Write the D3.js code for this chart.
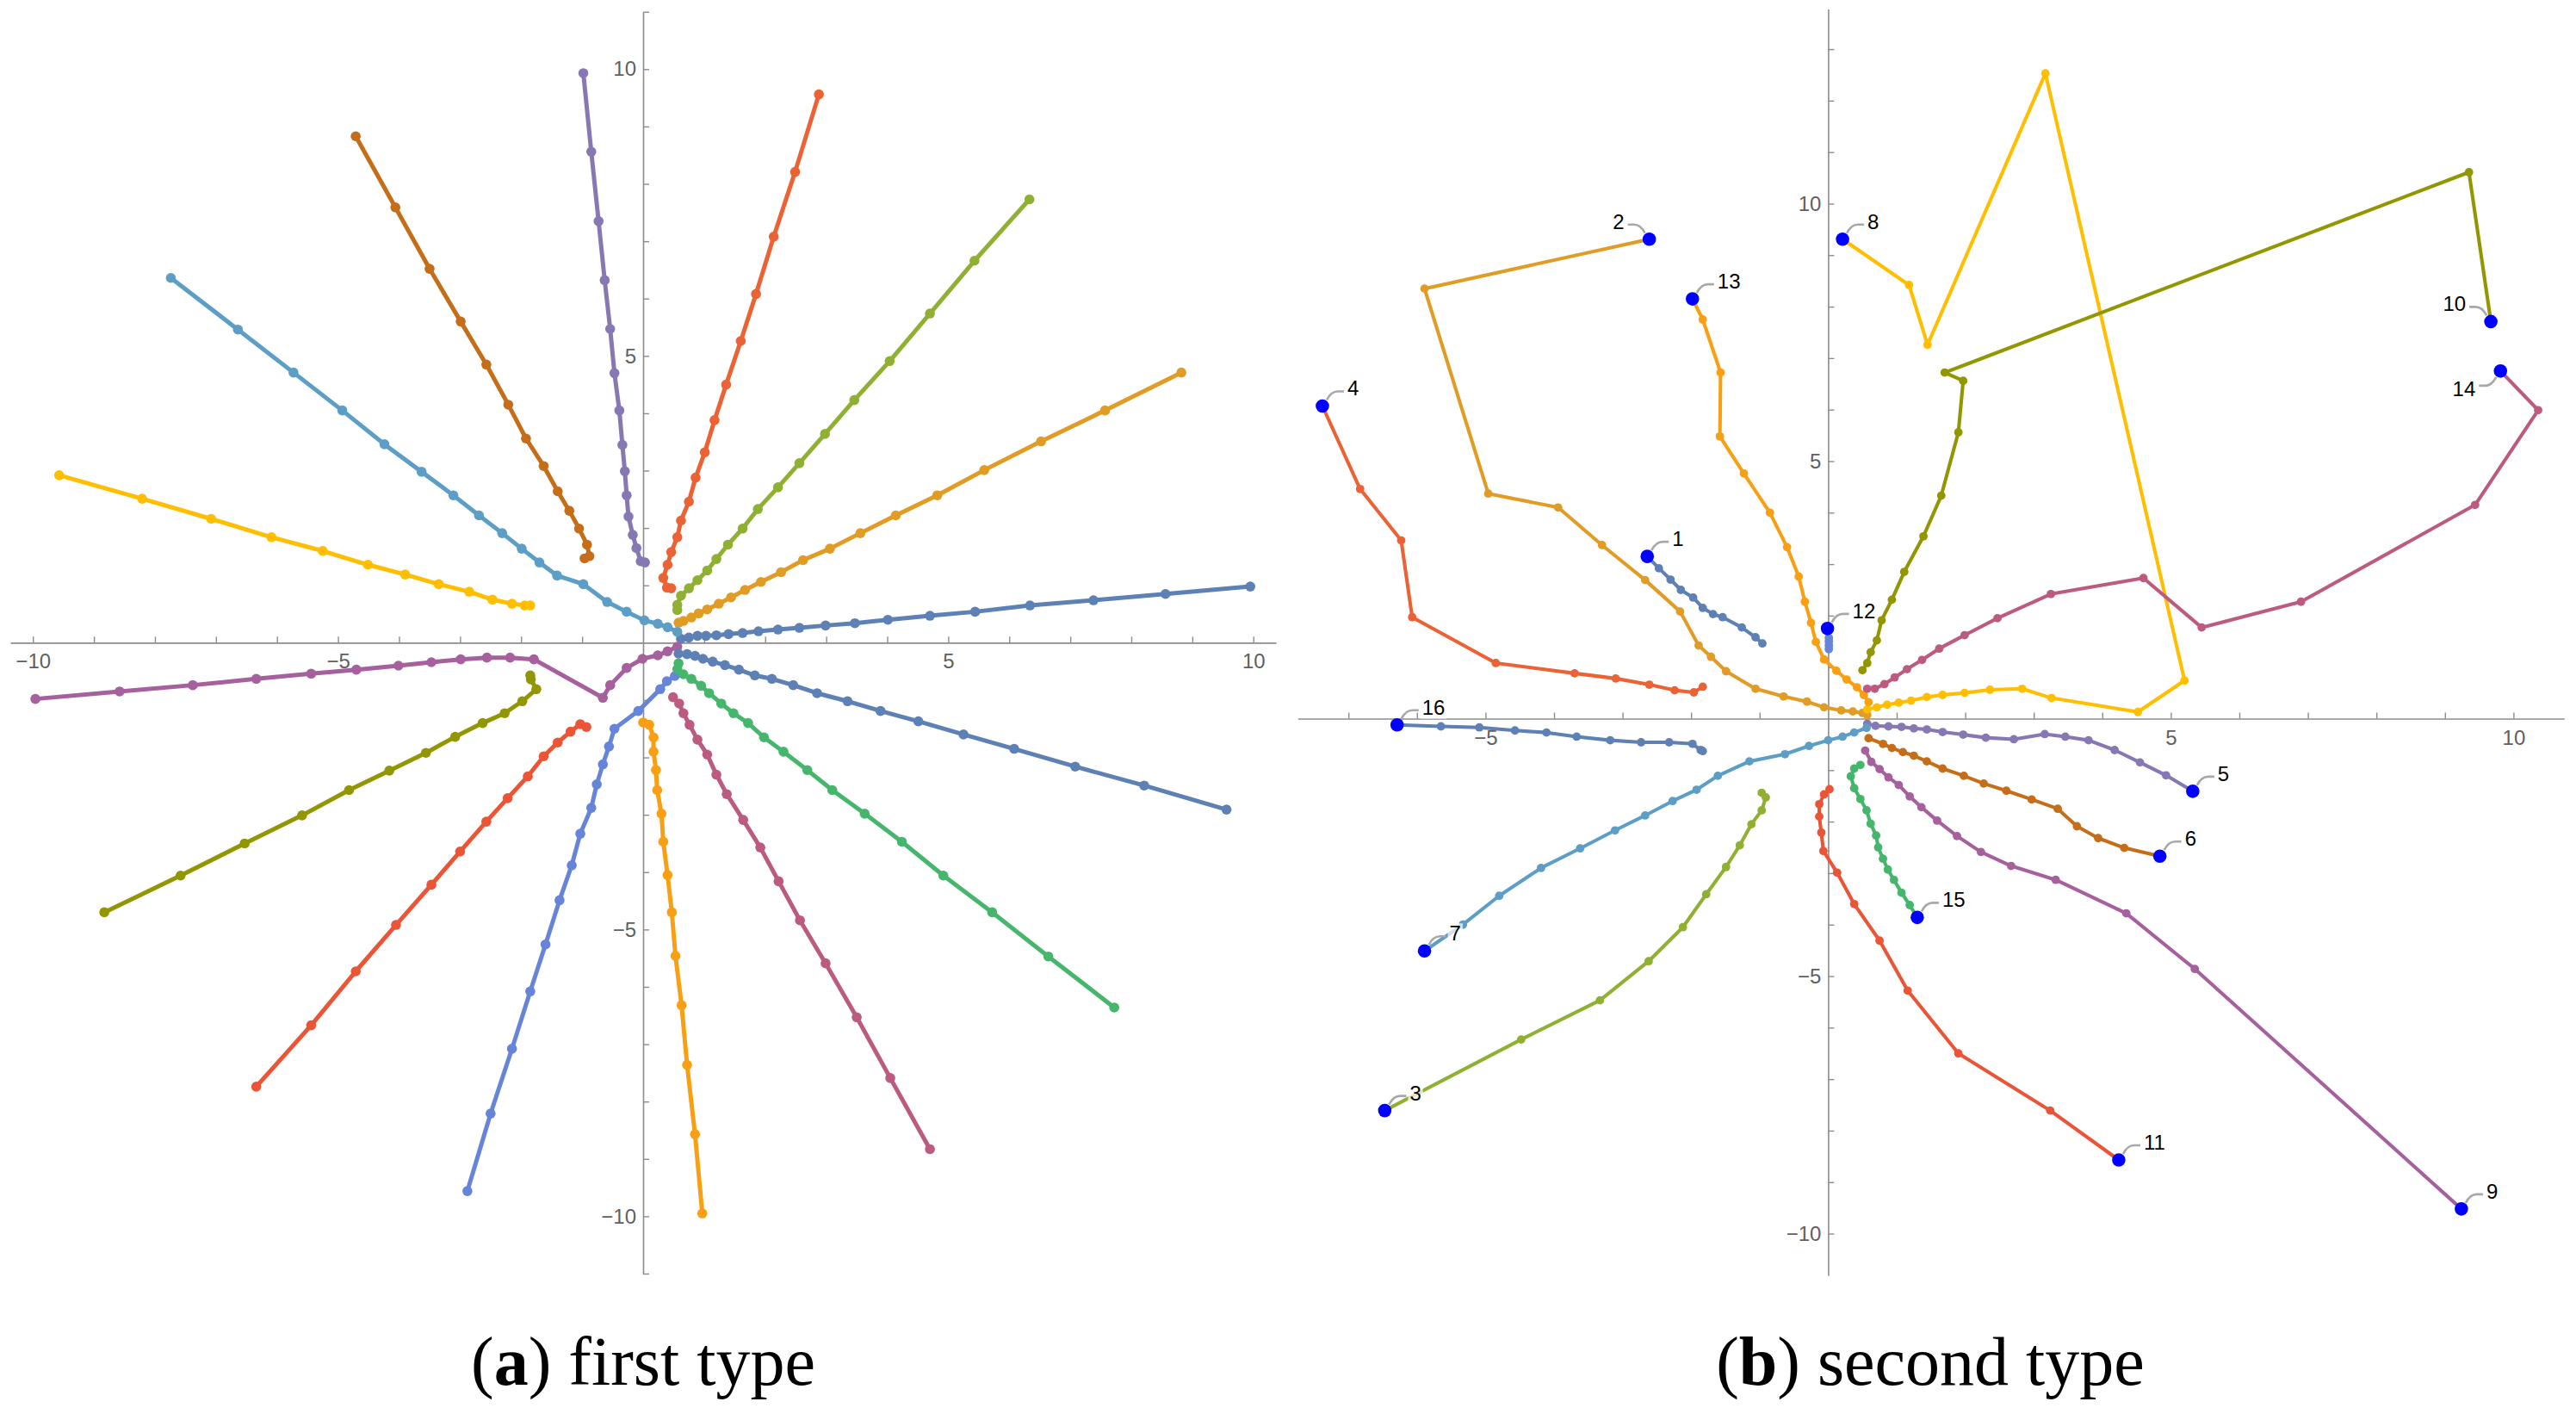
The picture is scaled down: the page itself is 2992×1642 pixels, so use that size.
<!DOCTYPE html>
<html>
<head>
<meta charset="utf-8">
<script src="https://cdn.jsdelivr.net/npm/d3@7"></script>
<style>
  html, body { margin: 0; padding: 0; background: #fff; }
  svg { display: block; }
</style>
</head>
<body>
<svg id="chart" width="2992" height="1642"></svg>
<script>
// ---------- Panel (a): first type ----------
const a1 = [[0.62,0.07],[0.75,0.09],[0.89,0.12],[1.03,0.12],[1.20,0.13],[1.40,0.15],[1.63,0.17],[1.89,0.20],[2.21,0.23],[2.56,0.26],[2.99,0.30],[3.47,0.34],[4.01,0.40],[4.70,0.47],[5.44,0.54],[6.34,0.65],[7.38,0.74],[8.56,0.85],[9.95,0.98]];
const a2 = [[0.58,0.35],[0.66,0.38],[0.79,0.44],[0.91,0.51],[1.05,0.58],[1.24,0.68],[1.44,0.79],[1.67,0.92],[1.93,1.06],[2.26,1.23],[2.62,1.44],[3.06,1.64],[3.56,1.91],[4.14,2.22],[4.82,2.57],[5.59,3.01],[6.52,3.51],[7.57,4.05],[8.82,4.71]];
const a3 = [[0.56,0.57],[0.56,0.66],[0.62,0.82],[0.75,0.95],[0.89,1.09],[1.05,1.26],[1.20,1.46],[1.39,1.71],[1.63,1.99],[1.88,2.33],[2.21,2.71],[2.56,3.13],[2.98,3.64],[3.46,4.23],[4.04,4.91],[4.70,5.74],[5.43,6.66],[6.33,7.73]];
const a4 = [[0.46,0.95],[0.39,0.96],[0.33,1.13],[0.40,1.36],[0.46,1.58],[0.56,1.84],[0.62,2.13],[0.75,2.46],[0.86,2.88],[1.01,3.32],[1.17,3.88],[1.36,4.50],[1.60,5.26],[1.85,6.08],[2.14,7.08],[2.49,8.21],[2.88,9.56]];
const a5 = [[0.03,1.40],[-0.04,1.42],[-0.11,1.65],[-0.17,1.88],[-0.24,2.20],[-0.27,2.57],[-0.30,2.99],[-0.34,3.45],[-0.39,4.05],[-0.47,4.70],[-0.54,5.47],[-0.63,6.32],[-0.73,7.35],[-0.85,8.56],[-0.98,9.93]];
const a6 = [[-0.96,1.47],[-0.88,1.51],[-0.92,1.71],[-1.05,1.99],[-1.21,2.30],[-1.40,2.64],[-1.63,3.08],[-1.92,3.56],[-2.21,4.15],[-2.57,4.85],[-2.99,5.60],[-3.50,6.52],[-4.06,7.59],[-4.71,8.83]];
const a7 = [[0.56,0.19],[0.40,0.27],[0.24,0.33],[0.02,0.39],[-0.27,0.54],[-0.59,0.71],[-0.98,1.02],[-1.41,1.17],[-1.70,1.40],[-1.99,1.64],[-2.31,1.91],[-2.69,2.22],[-3.11,2.57],[-3.63,2.98],[-4.24,3.46],[-4.93,4.05],[-5.73,4.71],[-6.64,5.46],[-7.74,6.36]];
const a8 = [[-1.85,0.65],[-1.94,0.65],[-2.15,0.68],[-2.47,0.75],[-2.85,0.89],[-3.35,1.02],[-3.90,1.19],[-4.51,1.36],[-5.25,1.60],[-6.09,1.84],[-7.08,2.16],[-8.21,2.51],[-9.57,2.92]];
const a9 = [[0.56,-0.07],[0.40,-0.15],[0.24,-0.22],[-0.01,-0.28],[-0.27,-0.44],[-0.54,-0.74],[-0.66,-0.96],[-1.79,-0.29],[-2.18,-0.26],[-2.56,-0.26],[-2.99,-0.29],[-3.47,-0.34],[-4.01,-0.40],[-4.70,-0.47],[-5.44,-0.54],[-6.34,-0.63],[-7.38,-0.74],[-8.58,-0.85],[-9.96,-0.98]];
const a10 = [[-1.85,-0.57],[-1.84,-0.64],[-1.75,-0.81],[-1.98,-1.02],[-2.27,-1.23],[-2.63,-1.40],[-3.08,-1.64],[-3.56,-1.92],[-4.16,-2.23],[-4.82,-2.57],[-5.59,-3.01],[-6.53,-3.50],[-7.58,-4.06],[-8.83,-4.70]];
const a11 = [[-0.93,-1.47],[-1.03,-1.42],[-1.19,-1.55],[-1.40,-1.74],[-1.63,-1.98],[-1.89,-2.33],[-2.22,-2.71],[-2.57,-3.12],[-3.00,-3.64],[-3.47,-4.22],[-4.05,-4.92],[-4.71,-5.73],[-5.44,-6.67],[-6.34,-7.74]];
const a12 = [[0.52,-0.58],[0.39,-0.67],[0.28,-0.81],[-0.08,-1.19],[-0.47,-1.50],[-0.56,-1.81],[-0.66,-2.12],[-0.76,-2.47],[-0.85,-2.88],[-1.03,-3.33],[-1.17,-3.88],[-1.37,-4.49],[-1.60,-5.26],[-1.85,-6.08],[-2.15,-7.08],[-2.50,-8.21],[-2.88,-9.56]];
const a13 = [[0.00,-1.39],[0.10,-1.43],[0.17,-1.65],[0.17,-1.90],[0.21,-2.22],[0.23,-2.57],[0.30,-2.98],[0.33,-3.47],[0.40,-4.05],[0.47,-4.70],[0.53,-5.46],[0.63,-6.32],[0.72,-7.36],[0.85,-8.57],[0.97,-9.95]];
const a14 = [[0.49,-0.95],[0.59,-1.06],[0.66,-1.23],[0.76,-1.43],[0.89,-1.69],[1.05,-1.95],[1.20,-2.30],[1.37,-2.64],[1.64,-3.09],[1.92,-3.57],[2.22,-4.16],[2.57,-4.84],[2.99,-5.59],[3.50,-6.53],[4.05,-7.59],[4.70,-8.83]];
const a15 = [[0.58,-0.36],[0.56,-0.46],[0.66,-0.55],[0.79,-0.63],[0.95,-0.75],[1.08,-0.88],[1.28,-1.06],[1.48,-1.23],[1.72,-1.40],[1.98,-1.65],[2.30,-1.90],[2.69,-2.22],[3.10,-2.57],[3.63,-2.98],[4.24,-3.47],[4.92,-4.06],[5.72,-4.70],[6.64,-5.47],[7.72,-6.36]];
const a16 = [[0.58,-0.19],[0.72,-0.20],[0.85,-0.23],[0.98,-0.28],[1.14,-0.33],[1.34,-0.39],[1.57,-0.47],[1.83,-0.57],[2.11,-0.63],[2.46,-0.74],[2.85,-0.88],[3.35,-1.02],[3.89,-1.19],[4.51,-1.37],[5.25,-1.60],[6.08,-1.85],[7.08,-2.16],[8.21,-2.49],[9.56,-2.91]];

// ---------- Panel (b): second type (last point = labelled end) ----------
const b1 = [[-0.96,1.46],[-1.06,1.58],[-1.26,1.77],[-1.54,1.97],[-1.68,2.03],[-1.83,2.15],[-1.97,2.35],[-2.15,2.50],[-2.30,2.70],[-2.47,2.92],[-2.64,3.15]];
const b2 = [[0.57,0.07],[0.50,0.11],[0.36,0.14],[0.19,0.16],[-0.06,0.22],[-0.31,0.33],[-0.65,0.43],[-1.06,0.58],[-1.49,0.92],[-1.71,1.20],[-1.89,1.42],[-2.16,2.08],[-2.67,2.69],[-3.30,3.37],[-3.94,4.10],[-4.96,4.37],[-5.89,8.35],[-2.61,9.31]];
const b3 = [[-0.97,-1.44],[-0.91,-1.53],[-0.97,-1.78],[-1.12,-2.05],[-1.29,-2.46],[-1.49,-2.88],[-1.78,-3.41],[-2.12,-4.05],[-2.62,-4.71],[-3.33,-5.47],[-4.48,-6.23],[-6.47,-7.61]];
const b4 = [[-1.83,0.62],[-1.96,0.51],[-2.24,0.55],[-2.61,0.66],[-3.10,0.78],[-3.70,0.88],[-4.85,1.08],[-6.07,1.97],[-6.23,3.46],[-6.83,4.46],[-7.38,6.07]];
const b5 = [[0.57,-0.10],[0.69,-0.14],[0.88,-0.15],[1.07,-0.16],[1.25,-0.19],[1.44,-0.21],[1.67,-0.26],[1.97,-0.31],[2.30,-0.37],[2.71,-0.40],[3.16,-0.30],[3.46,-0.35],[3.80,-0.42],[4.18,-0.61],[4.55,-0.85],[4.93,-1.10],[5.32,-1.41]];
const b6 = [[0.59,-0.38],[0.80,-0.49],[0.93,-0.57],[1.09,-0.65],[1.25,-0.72],[1.44,-0.83],[1.67,-0.97],[1.98,-1.11],[2.27,-1.26],[2.60,-1.40],[2.97,-1.57],[3.35,-1.75],[3.63,-2.09],[3.94,-2.32],[4.32,-2.51],[4.84,-2.67]];
const b7 = [[0.56,-0.18],[0.38,-0.27],[0.21,-0.35],[0.00,-0.42],[-0.28,-0.53],[-0.63,-0.69],[-1.15,-0.83],[-1.61,-1.11],[-1.92,-1.38],[-2.27,-1.60],[-2.67,-1.88],[-3.11,-2.17],[-3.62,-2.52],[-4.19,-2.90],[-4.80,-3.44],[-5.33,-4.00],[-5.89,-4.51]];
const b8 = [[0.57,0.18],[0.71,0.22],[0.86,0.27],[1.03,0.31],[1.21,0.35],[1.44,0.42],[1.67,0.46],[1.99,0.50],[2.36,0.56],[2.83,0.58],[3.26,0.40],[4.52,0.13],[5.20,0.74],[3.17,12.53],[1.45,7.26],[1.18,8.42],[0.21,9.31]];
const b9 = [[0.54,-0.62],[0.63,-0.84],[0.75,-0.98],[0.88,-1.14],[1.03,-1.29],[1.19,-1.51],[1.36,-1.72],[1.59,-1.98],[1.88,-2.28],[2.23,-2.59],[2.67,-2.86],[3.32,-3.13],[4.35,-3.78],[5.35,-4.86],[9.24,-9.52]];
const b10 = [[0.50,0.94],[0.57,1.08],[0.62,1.29],[0.71,1.52],[0.78,1.91],[0.93,2.31],[1.11,2.85],[1.39,3.54],[1.65,4.33],[1.90,5.56],[1.97,6.56],[1.70,6.72],[9.35,10.61],[9.67,7.71]];
const b11 = [[0.02,-1.37],[-0.06,-1.47],[-0.13,-1.66],[-0.13,-1.90],[-0.10,-2.21],[-0.07,-2.57],[0.13,-2.99],[0.38,-3.60],[0.75,-4.31],[1.16,-5.28],[1.90,-6.50],[3.24,-7.61],[4.24,-8.57]];
const b12 = [[0.01,1.35],[0.01,1.42],[0.01,1.50],[0.01,1.57],[-0.01,1.75]];
const b13 = [[0.59,0.32],[0.52,0.46],[0.42,0.61],[0.27,0.76],[0.12,0.93],[-0.06,1.15],[-0.18,1.49],[-0.25,1.86],[-0.34,2.27],[-0.43,2.76],[-0.60,3.33],[-0.85,4.00],[-1.23,4.76],[-1.58,5.48],[-1.57,6.72],[-1.83,7.75],[-1.98,8.15]];
const b14 = [[0.57,0.58],[0.68,0.58],[0.82,0.67],[0.97,0.80],[1.15,0.96],[1.37,1.14],[1.62,1.36],[1.99,1.62],[2.47,1.95],[3.25,2.42],[4.60,2.73],[5.45,1.77],[6.90,2.27],[9.44,4.15],[10.36,5.99],[9.81,6.75]];
const b15 = [[0.47,-0.90],[0.38,-0.97],[0.33,-1.12],[0.38,-1.35],[0.47,-1.56],[0.56,-1.78],[0.62,-2.04],[0.70,-2.27],[0.73,-2.50],[0.80,-2.72],[0.87,-2.93],[0.96,-3.13],[1.07,-3.38],[1.19,-3.62],[1.30,-3.86]];
const b16 = [[-1.83,-0.63],[-1.86,-0.61],[-1.98,-0.49],[-2.32,-0.46],[-2.73,-0.46],[-3.18,-0.42],[-3.67,-0.35],[-4.11,-0.27],[-4.57,-0.23],[-5.09,-0.17],[-5.65,-0.15],[-6.29,-0.12]];

const seriesA = [a1,a2,a3,a4,a5,a6,a7,a8,a9,a10,a11,a12,a13,a14,a15,a16];
const seriesB = [b1,b2,b3,b4,b5,b6,b7,b8,b9,b10,b11,b12,b13,b14,b15,b16];
const labelsB = ["1","2","3","4","5","6","7","8","9","10","11","12","13","14","15","16"];
const labelSideB = ["ur","ul","ur","ur","ur","ur","ur","ur","ur","ul","ur","ur","ur","dl","ur","ur"];

const palette = ["#5E81B5","#E09C24","#8FB032","#EB6235","#8778B3","#C56E1A","#5D9EC7","#FFBF00",
                 "#A5609D","#929600","#E95536","#6685D9","#F89F13","#BC5B80","#47B66D","#5E81B5"];

const xTicksA = d3.range(-10, 11).filter(d => d !== 0);
const yTicksA = d3.range(-11, 12).filter(d => d !== 0);
const xTicksB = d3.range(-7, 11).filter(d => d !== 0);
const yTicksB = d3.range(-10, 14).filter(d => d !== 0);
const captions = [{tag:"a", text:" first type"}, {tag:"b", text:" second type"}];

// ---------- drawing ----------
const svg = d3.select("#chart");
svg.append("rect").attr("width", 2992).attr("height", 1642).attr("fill", "#fff");

const xsA = d3.scaleLinear().domain([-10.37, 10.37]).range([12, 1482]);
const ysA = d3.scaleLinear().domain([-11.0, 11.0]).range([1479, 13.7]);
const xsB = d3.scaleLinear().domain([-7.74, 10.74]).range([1507.3, 2978.3]);
const ysB = d3.scaleLinear().domain([-10.81, 13.78]).range([1481, 10.4]);

const fmt = d => (d % 5 === 0) ? d3.format("d")(d) : "";
const AXIS = "#8c8c8c", TICKTXT = "#5f5f5f";
const FONT = "'Liberation Sans', Arial, sans-serif";

function drawAxes(g, xs, ys, xt, yt) {
  const gx = g.append("g").attr("transform", `translate(0,${ys(0)})`)
    .call(d3.axisBottom(xs).tickValues(xt).tickSizeInner(-7).tickSizeOuter(0).tickPadding(13).tickFormat(fmt));
  const gy = g.append("g").attr("transform", `translate(${xs(0)},0)`)
    .call(d3.axisLeft(ys).tickValues(yt).tickSizeInner(-7).tickSizeOuter(0).tickPadding(8).tickFormat(fmt));
  [gx, gy].forEach(a => {
    a.select(".domain").attr("stroke", AXIS).attr("stroke-width", 1.6);
    a.selectAll(".tick line").attr("stroke", AXIS).attr("stroke-width", 1.4);
    a.selectAll(".tick text").attr("fill", TICKTXT).attr("font-size", 24).attr("font-family", FONT);
  });
}

function drawSeries(g, series, xs, ys, lw, r) {
  const line = d3.line().x(d => xs(d[0])).y(d => ys(d[1]));
  series.forEach((s, i) => {
    const sg = g.append("g");
    sg.append("path").attr("d", line(s)).attr("fill", "none")
      .attr("stroke", palette[i]).attr("stroke-width", lw)
      .attr("stroke-linejoin", "round").attr("stroke-linecap", "round");
    sg.selectAll("circle").data(s).join("circle")
      .attr("cx", d => xs(d[0])).attr("cy", d => ys(d[1])).attr("r", r)
      .attr("fill", palette[i]);
  });
}

// Panel a
const gA = svg.append("g");
drawAxes(gA, xsA, ysA, xTicksA, yTicksA);
drawSeries(gA, seriesA, xsA, ysA, 5, 5.8);

// Panel b
const gB = svg.append("g");
drawAxes(gB, xsB, ysB, xTicksB, yTicksB);
drawSeries(gB, seriesB, xsB, ysB, 4.1, 4.9);

// end markers + callout labels
const gL = gB.append("g");
seriesB.forEach((s, i) => {
  const p = s[s.length - 1];
  const cx = xsB(p[0]), cy = ysB(p[1]);
  const side = labelSideB[i];
  const sx = side === "ur" ? 1 : -1;
  const sy = side === "dl" ? 1 : -1;
  const lg = gL.append("g").attr("transform", `translate(${cx},${cy})`);
  const t = lg.append("text")
    .attr("x", sx * 29)
    .attr("y", sy === -1 ? -12 : 29)
    .attr("text-anchor", sx === 1 ? "start" : "end")
    .attr("font-size", 24).attr("font-family", FONT).attr("fill", "#000")
    .text(labelsB[i]);
  const bb = t.node().getBBox();
  lg.insert("rect", "text").attr("x", bb.x - 2).attr("y", bb.y + 2)
    .attr("width", bb.width + 4).attr("height", bb.height - 2)
    .attr("fill", "#fff").attr("fill-opacity", 0.7);
  lg.append("path")
    .attr("d", `M${sx*5},${sy*7} Q${sx*10},${sy*17} ${sx*18},${sy*17} L${sx*25},${sy*17}`)
    .attr("fill", "none").attr("stroke", "#a8a8a8").attr("stroke-width", 2.6);
  gL.append("circle").attr("cx", cx).attr("cy", cy).attr("r", 7.8).attr("fill", "#0000ff");
});

// captions
const capX = [747, 2242];
captions.forEach((c, i) => {
  const t = svg.append("text").attr("x", capX[i]).attr("y", 1608)
    .attr("text-anchor", "middle").attr("font-size", 80)
    .attr("font-family", "'Liberation Serif', 'Times New Roman', serif").attr("fill", "#000");
  t.append("tspan").text("(");
  t.append("tspan").attr("font-weight", "bold").text(c.tag);
  t.append("tspan").text(")" + c.text);
});
</script>
</body>
</html>
